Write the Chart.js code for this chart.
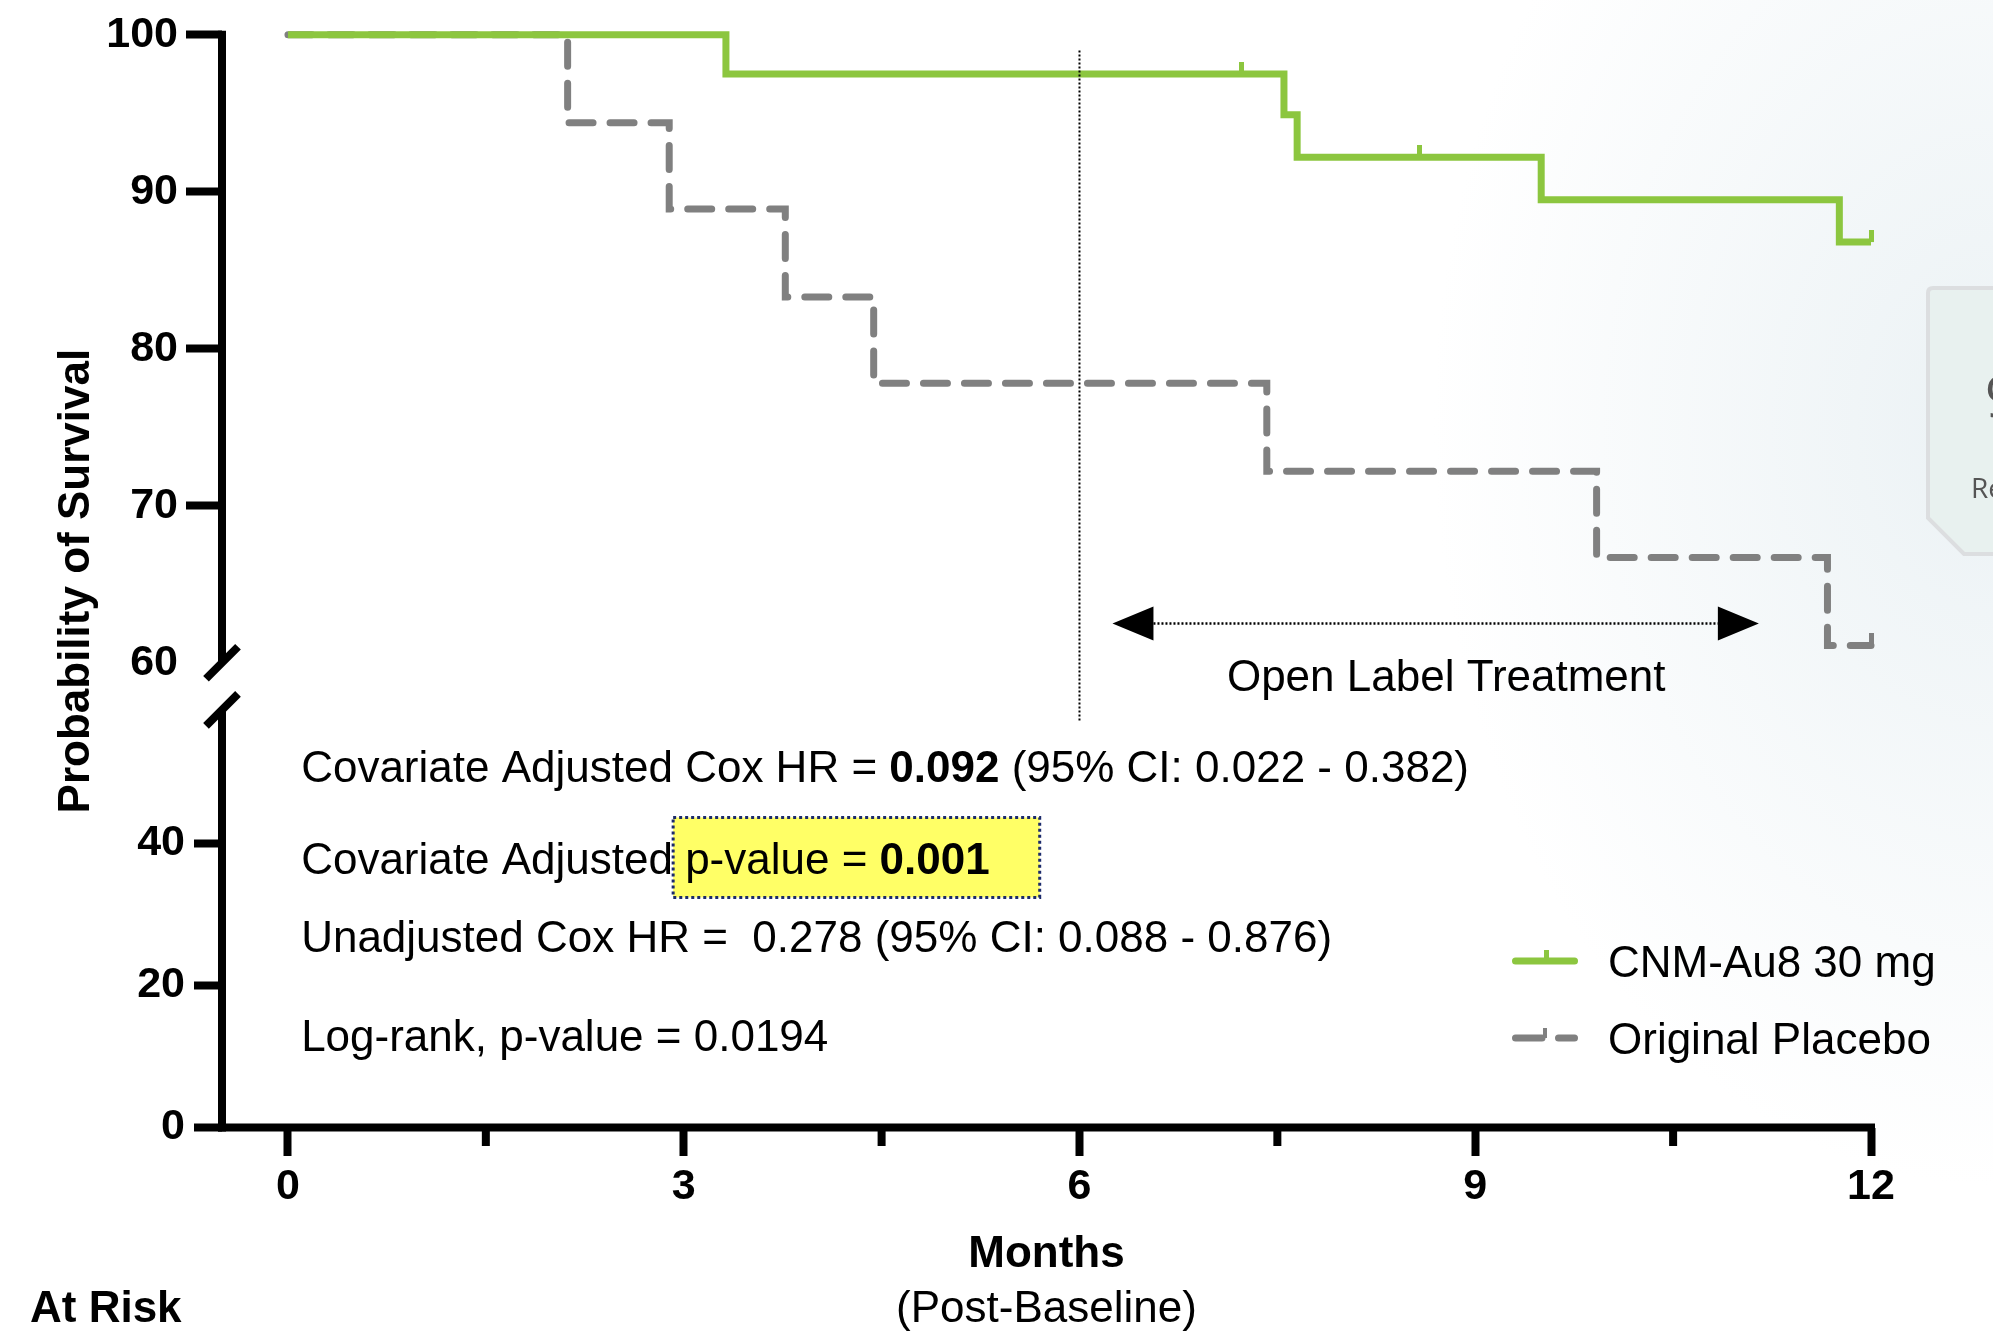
<!DOCTYPE html>
<html>
<head>
<meta charset="utf-8">
<title>CNM-Au8 30 mg vs Original Placebo – Probability of Survival</title>
<script src="https://cdn.jsdelivr.net/npm/chart.js@4.4.1/dist/chart.umd.min.js"></script>
<style>
  html, body { margin: 0; padding: 0; width: 1993px; height: 1332px; overflow: hidden; }
  body {
    position: relative;
    background: radial-gradient(ellipse 560px 760px at 100% 32%, rgba(234, 241, 244, 0.95), rgba(255, 255, 255, 0) 100%), #fff;
  }
  #km { position: absolute; left: 0; top: 0; }
  #sidePanel { position: absolute; left: 0; top: 0; }
</style>
</head>
<body>
<canvas id="km" width="1993" height="1332"></canvas>
<svg id="sidePanel" width="1993" height="1332">
  <path d="M1933 288 H2010 V554 H1964 L1928 518 V293 Q1928 288 1933 288 Z" fill="#e8f1ef" stroke="#dcdee0" stroke-width="4"/>
  <text x="1985" y="417" font-family="Open Sans" font-size="56" fill="#555">9</text>
  <text x="1971" y="498" font-family="Open Sans" font-size="28" fill="#555">Re</text>
</svg>
<script>
(function(){
  const FONT = '"Liberation Sans", Arial, Helvetica, sans-serif';

  // Kaplan-Meier steps: month of each event and survival (%) right after it
  const cnmMonths   = [0, 3.32, 7.55, 7.65, 9.50, 11.76, 12.0];
  const cnmSurvival = [100, 97.5, 94.9, 92.2, 89.5, 86.8, 86.8];
  const cnmCensorMonths   = [7.23, 8.58, 12.0];
  const cnmCensorSurvival = [97.5, 92.2, 86.8];

  const placeboMonths   = [0, 2.12, 2.89, 3.77, 4.44, 7.42, 9.92, 11.67, 12.0];
  const placeboSurvival = [100, 94.4, 88.9, 83.3, 77.8, 72.2, 66.7, 61.1, 61.1];
  const placeboCensorMonths   = [12.0];
  const placeboCensorSurvival = [61.1];

  const seriesNames  = ['CNM-Au8 30 mg', 'Original Placebo'];
  const seriesColors = ['#8cc63f', '#808080'];

  const monthTicks      = [0, 3, 6, 9, 12];
  const monthMinorTicks = [1.5, 4.5, 7.5, 10.5];
  const upperTicks      = [60, 70, 80, 90, 100];
  const lowerTicks      = [0, 20, 40];

  const openLabelStart = 6;
  const openLabelSpan  = [6.25, 11.15];

  // text runs: flag 'b' = bold, 'h' = highlighted
  const statLines = [
    [['Covariate Adjusted Cox HR = '], ['0.092', 'b'], [' (95% CI: 0.022 - 0.382)']],
    [['Covariate Adjusted '], ['p-value = ', 'h'], ['0.001', 'bh']],
    [['Unadjusted Cox HR =  0.278 (95% CI: 0.088 - 0.876)']],
    [['Log-rank, p-value = 0.0194']]
  ];

  const xy = (xs, ys) => xs.map((x, i) => ({ x: x, y: ys[i] }));

  // MARK: small upward tick used for censored observations
  function censorMark(color) {
    const c = document.createElement('canvas');
    c.width = 5; c.height = 24;
    const g = c.getContext('2d');
    g.fillStyle = color;
    g.fillRect(0, 0, 5, 12);
    return c;
  }

  function seg(ctx, x1, y1, x2, y2) {
    ctx.beginPath(); ctx.moveTo(x1, y1); ctx.lineTo(x2, y2); ctx.stroke();
  }

  function font(bold) { return (bold ? 'bold ' : '') + '44px ' + FONT; }

  // MARK: axis lines with break, annotations, legend and titles
  const kmDecor = {
    id: 'kmDecor',
    afterDraw(chart) {
      const { ctx, chartArea: area } = chart;
      const x = chart.scales.x, yTop = chart.scales.yTop, yLow = chart.scales.yLow;
      ctx.save();

      // axes
      ctx.strokeStyle = '#000';
      ctx.lineWidth = 8;
      ctx.lineCap = 'butt';
      const ax = area.left;
      const breakHi = yTop.getPixelForValue(60);
      const breakLo = yLow.top;
      seg(ctx, ax, yTop.getPixelForValue(100) - 4, ax, breakHi);
      seg(ctx, ax, breakLo, ax, area.bottom + 4);
      seg(ctx, ax - 4, area.bottom, x.getPixelForValue(12) + 4, area.bottom);
      [breakHi, breakLo].forEach(py => seg(ctx, ax - 16, py + 16, ax + 16, py - 16));
      monthMinorTicks.forEach(m => {
        const px = x.getPixelForValue(m);
        seg(ctx, px, area.bottom, px, area.bottom + 18.5);
      });

      // start of open label period
      ctx.lineWidth = 2;
      ctx.setLineDash([2, 2]);
      const sx = x.getPixelForValue(openLabelStart);
      seg(ctx, sx, yTop.getPixelForValue(99), sx, yLow.getPixelForValue(57.3));

      // double arrow
      const ay = yTop.getPixelForValue(62.5);
      const a1 = x.getPixelForValue(openLabelSpan[0]);
      const a2 = x.getPixelForValue(openLabelSpan[1]);
      ctx.lineWidth = 2.5;
      seg(ctx, a1 + 41, ay, a2 - 41, ay);
      ctx.setLineDash([]);
      ctx.fillStyle = '#000';
      ctx.beginPath();
      ctx.moveTo(a1, ay); ctx.lineTo(a1 + 41, ay - 17); ctx.lineTo(a1 + 41, ay + 17); ctx.closePath();
      ctx.moveTo(a2, ay); ctx.lineTo(a2 - 41, ay - 17); ctx.lineTo(a2 - 41, ay + 17); ctx.closePath();
      ctx.fill();
      ctx.font = font(false);
      ctx.textAlign = 'center';
      ctx.textBaseline = 'alphabetic';
      ctx.fillText('Open Label Treatment', x.getPixelForValue(8.78), yTop.getPixelForValue(58.2));

      // statistics block
      ctx.textAlign = 'left';
      const levels = [48.7, 35.7, 24.7, 10.7];
      const x0 = x.getPixelForValue(0.1);
      statLines.forEach((runs, i) => {
        const by = yLow.getPixelForValue(levels[i]);
        let cx = x0, hx0 = null, hx1 = null;
        const placed = runs.map(r => {
          const flags = r[1] || '';
          ctx.font = font(flags.includes('b'));
          const w = ctx.measureText(r[0]).width;
          const item = { text: r[0], bold: flags.includes('b'), x: cx };
          if (flags.includes('h')) { if (hx0 === null) hx0 = cx; hx1 = cx + w; }
          cx += w;
          return item;
        });
        if (hx0 !== null) {
          const bx = hx0 - 12, bw = hx1 + 50 - bx;
          ctx.fillStyle = '#ffff66';
          ctx.fillRect(bx, by - 56.5, bw, 80);
          ctx.strokeStyle = '#1b2a6b';
          ctx.lineWidth = 3;
          ctx.setLineDash([3, 3]);
          ctx.strokeRect(bx, by - 56.5, bw, 80);
          ctx.setLineDash([]);
        }
        ctx.fillStyle = '#000';
        placed.forEach(p => { ctx.font = font(p.bold); ctx.fillText(p.text, p.x, by); });
      });

      // legend
      const lx0 = area.right - 359, lx1 = area.right - 293, tx = area.right - 263;
      const rows = [area.bottom - 166.5, area.bottom - 89.5];
      ctx.lineCap = 'round';
      ctx.lineWidth = 7;
      ctx.strokeStyle = seriesColors[0];
      seg(ctx, lx0 + 3.5, rows[0], lx1 - 3.5, rows[0]);
      ctx.fillStyle = seriesColors[0];
      ctx.fillRect(lx0 + 32, rows[0] - 11, 5, 11);
      ctx.strokeStyle = seriesColors[1];
      seg(ctx, lx0 + 3.5, rows[1], lx0 + 30, rows[1]);
      seg(ctx, lx0 + 46.5, rows[1], lx1 - 3.5, rows[1]);
      ctx.fillStyle = seriesColors[1];
      ctx.fillRect(lx0 + 31, rows[1] - 10, 4, 10);
      ctx.fillStyle = '#000';
      ctx.font = font(false);
      seriesNames.forEach((name, i) => ctx.fillText(name, tx, rows[i] + 16));

      // axis titles
      ctx.font = font(true);
      ctx.textAlign = 'center';
      const midX = (area.left + area.right) / 2;
      ctx.fillText('Months', midX, 1266.5);
      ctx.font = font(false);
      ctx.fillText('(Post-Baseline)', midX, 1322);
      ctx.font = font(true);
      ctx.textAlign = 'left';
      ctx.fillText('At Risk', 30, 1322);
      ctx.save();
      ctx.translate(89, (area.top + area.bottom) / 2);
      ctx.rotate(-Math.PI / 2);
      ctx.textAlign = 'center';
      ctx.fillText('Probability of Survival', 0, 0);
      ctx.restore();

      ctx.restore();
    }
  };

  const tickFont = { family: FONT, size: 43, weight: 'bold' };

  const canvas = document.getElementById('km');
  if (!canvas) return;
  new Chart(canvas.getContext('2d'), {
    type: 'line',
    data: {
      datasets: [
        {
          label: seriesNames[0],
          data: xy(cnmMonths, cnmSurvival),
          borderColor: seriesColors[0],
          borderWidth: 7,
          borderJoinStyle: 'miter',
          stepped: true,
          pointRadius: 0,
          fill: false,
          clip: false,
          yAxisID: 'yTop'
        },
        {
          label: seriesNames[1],
          data: xy(placeboMonths, placeboSurvival),
          borderColor: seriesColors[1],
          borderWidth: 7,
          borderDash: [24, 17],
          borderCapStyle: 'round',
          borderJoinStyle: 'miter',
          stepped: true,
          pointRadius: 0,
          fill: false,
          clip: false,
          yAxisID: 'yTop'
        },
        {
          label: seriesNames[0] + ' censored',
          data: xy(cnmCensorMonths, cnmCensorSurvival),
          showLine: false,
          pointStyle: censorMark(seriesColors[0]),
          pointRadius: 5,
          clip: false,
          yAxisID: 'yTop'
        },
        {
          label: seriesNames[1] + ' censored',
          data: xy(placeboCensorMonths, placeboCensorSurvival),
          showLine: false,
          pointStyle: censorMark(seriesColors[1]),
          pointRadius: 5,
          clip: false,
          yAxisID: 'yTop'
        }
      ]
    },
    options: {
      responsive: false,
      animation: false,
      devicePixelRatio: 1,
      events: [],
      layout: { padding: { top: 32.6, right: 122, bottom: 0, left: 0 } },
      plugins: {
        legend: { display: false },
        title: { display: false },
        tooltip: { enabled: false }
      },
      scales: {
        x: {
          type: 'linear',
          min: -0.5,
          max: 12,
          afterBuildTicks: s => { s.ticks = monthTicks.map(v => ({ value: v })); },
          afterFit: s => { s.height = 204.5; },
          ticks: { font: tickFont, color: '#000', padding: 5, maxRotation: 0 },
          grid: { drawOnChartArea: false, tickLength: 28.5, tickWidth: 8, tickColor: '#000' },
          border: { display: false }
        },
        yLow: {
          type: 'linear',
          position: 'left',
          stack: 'survival',
          stackWeight: 418.5,
          weight: 0,
          min: 0,
          max: 58.8,
          afterBuildTicks: s => { s.ticks = lowerTicks.map(v => ({ value: v })); },
          afterFit: s => { s.width = 222; },
          ticks: { font: tickFont, color: '#000', padding: 9 },
          grid: { drawOnChartArea: false, tickLength: 28, tickWidth: 8, tickColor: '#000' },
          border: { display: false }
        },
        yTop: {
          type: 'linear',
          position: 'left',
          stack: 'survival',
          stackWeight: 676.4,
          weight: 1,
          min: 57.0,
          max: 100,
          afterBuildTicks: s => { s.ticks = upperTicks.map(v => ({ value: v })); },
          afterFit: s => { s.width = 222; },
          ticks: { font: tickFont, color: '#000', padding: 8 },
          grid: {
            drawOnChartArea: false,
            tickLength: 36,
            tickWidth: 8,
            tickColor: c => (c.tick && c.tick.value === 60 ? 'rgba(0,0,0,0)' : '#000')
          },
          border: { display: false }
        }
      }
    },
    plugins: [kmDecor]
  });
})();
</script>
</body>
</html>
